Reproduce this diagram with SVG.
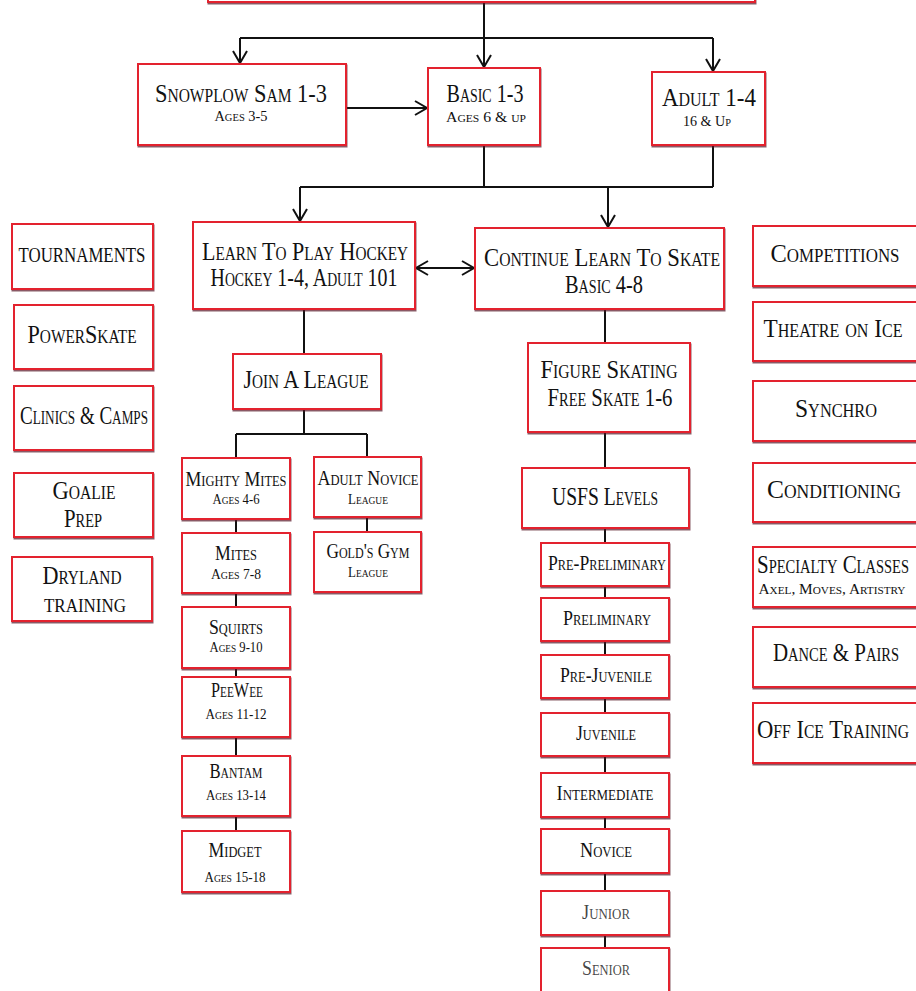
<svg xmlns="http://www.w3.org/2000/svg" width="916" height="991" viewBox="0 0 916 991">
<style>
.box{fill:#fff;stroke:#e3222f;stroke-width:2;filter:url(#sh)}
.t{font-family:"Liberation Serif",serif;font-variant:small-caps;fill:#111;text-anchor:middle}
.l{font-size:26px}
.m{font-size:20px}
.s{font-size:15px}
.c{stroke:#111;stroke-width:2;fill:none}
</style>
<defs>
<filter id="sh" x="-5%" y="-5%" width="110%" height="120%"><feDropShadow dx="0.5" dy="1.5" stdDeviation="0.6" flood-color="#5a1020" flood-opacity="0.7"/></filter>
<marker id="ar" markerUnits="userSpaceOnUse" markerWidth="16" markerHeight="16" refX="12" refY="7" orient="auto-start-reverse" viewBox="-1 -1 15 16">
<path d="M0,0 L12,7 L0,14" fill="none" stroke="#111" stroke-width="2"/>
</marker>
</defs>
<rect width="916" height="991" fill="#fff"/>
<g id="connectors">
<path class="c" d="M484,2 V67" marker-end="url(#ar)"/>
<path class="c" d="M240,38 H713"/>
<path class="c" d="M240,38 V63" marker-end="url(#ar)"/>
<path class="c" d="M713,38 V71" marker-end="url(#ar)"/>
<path class="c" d="M346,108 H427" marker-end="url(#ar)"/>
<path class="c" d="M484,145 V187 M713,145 V187 M300,187 H713"/>
<path class="c" d="M300,187 V221" marker-end="url(#ar)"/>
<path class="c" d="M608,187 V227" marker-end="url(#ar)"/>
<path class="c" d="M416,268 H474" marker-start="url(#ar)" marker-end="url(#ar)"/>
<path class="c" d="M304,309 V354 M304,409 V434 M236,434 H367 M236,434 V458 M367,434 V457"/>
<path class="c" d="M236,519 V533 M236,593 V607 M236,668 V677 M236,737 V756 M236,816 V831 M367,517 V532"/>
<path class="c" d="M605,309 V343 M605,432 V468 M605,528 V543 M605,586 V598 M605,641 V655 M605,698 V713 M605,756 V773 M605,817 V829 M605,873 V891 M605,935 V948"/>
</g>
<g id="top"><rect class="box" x="208" y="-40" width="547" height="42"/></g>
<g id="snowplow"><rect class="box" x="138" y="64" width="208" height="81"/>
<text class="t l" x="241" y="102" textLength="172" lengthAdjust="spacingAndGlyphs">Snowplow Sam 1-3</text>
<text class="t s" x="241" y="121" textLength="53" lengthAdjust="spacingAndGlyphs">Ages 3-5</text></g>
<g id="basic13"><rect class="box" x="428" y="68" width="112" height="77"/>
<text class="t l" x="485" y="102" textLength="77" lengthAdjust="spacingAndGlyphs">Basic 1-3</text>
<text class="t s" x="486" y="122" textLength="80" lengthAdjust="spacingAndGlyphs">Ages 6 &amp; up</text></g>
<g id="adult14"><rect class="box" x="652" y="72" width="113" height="73"/>
<text class="t l" x="709" y="106" textLength="94" lengthAdjust="spacingAndGlyphs">Adult 1-4</text>
<text class="t s" x="707" y="126" textLength="48" lengthAdjust="spacingAndGlyphs">16 &amp; Up</text></g>
<g id="learnhockey"><rect class="box" x="193" y="222" width="222" height="87"/>
<text class="t l" x="305" y="260" textLength="206" lengthAdjust="spacingAndGlyphs">Learn To Play Hockey</text>
<text class="t l" x="304" y="286" textLength="187" lengthAdjust="spacingAndGlyphs">Hockey 1-4, Adult 101</text></g>
<g id="continueskate"><rect class="box" x="475" y="228" width="249" height="81"/>
<text class="t l" x="602" y="266" textLength="236" lengthAdjust="spacingAndGlyphs">Continue Learn To Skate</text>
<text class="t l" x="604" y="293" textLength="78" lengthAdjust="spacingAndGlyphs">Basic 4-8</text></g>
<g id="tournaments"><rect class="box" x="12" y="224" width="141" height="65"/>
<text class="t m" x="82" y="262" textLength="127" lengthAdjust="spacingAndGlyphs">TOURNAMENTS</text></g>
<g id="powerskate"><rect class="box" x="14" y="305" width="139" height="64"/>
<text class="t l" x="82" y="343" textLength="109" lengthAdjust="spacingAndGlyphs">PowerSkate</text></g>
<g id="clinics"><rect class="box" x="14" y="386" width="139" height="64"/>
<text class="t l" x="84" y="424" textLength="128" lengthAdjust="spacingAndGlyphs">Clinics &amp; Camps</text></g>
<g id="goalie"><rect class="box" x="14" y="473" width="139" height="64"/>
<text class="t l" x="84" y="499" textLength="63" lengthAdjust="spacingAndGlyphs">Goalie</text>
<text class="t l" x="83" y="527" textLength="38" lengthAdjust="spacingAndGlyphs">Prep</text></g>
<g id="dryland"><rect class="box" x="12" y="557" width="140" height="64"/>
<text class="t l" x="82" y="584" textLength="79" lengthAdjust="spacingAndGlyphs">Dryland</text>
<text class="t l" x="85" y="612" textLength="82" lengthAdjust="spacingAndGlyphs">training</text></g>
<g id="joinleague"><rect class="box" x="233" y="354" width="148" height="55"/>
<text class="t l" x="306" y="388" textLength="125" lengthAdjust="spacingAndGlyphs">Join A League</text></g>
<g id="mightymites"><rect class="box" x="182" y="458" width="108" height="61"/>
<text class="t m" x="236" y="486" textLength="101" lengthAdjust="spacingAndGlyphs">Mighty Mites</text>
<text class="t s" x="236" y="504" textLength="47" lengthAdjust="spacingAndGlyphs">Ages 4-6</text></g>
<g id="mites"><rect class="box" x="182" y="533" width="108" height="60"/>
<text class="t m" x="236" y="560" textLength="42" lengthAdjust="spacingAndGlyphs">Mites</text>
<text class="t s" x="236" y="579" textLength="50" lengthAdjust="spacingAndGlyphs">Ages 7-8</text></g>
<g id="squirts"><rect class="box" x="182" y="607" width="108" height="61"/>
<text class="t m" x="236" y="634" textLength="54" lengthAdjust="spacingAndGlyphs">Squirts</text>
<text class="t s" x="236" y="652" textLength="53" lengthAdjust="spacingAndGlyphs">Ages 9-10</text></g>
<g id="peewee"><rect class="box" x="182" y="677" width="108" height="60"/>
<text class="t m" x="237" y="697" textLength="52" lengthAdjust="spacingAndGlyphs">PeeWee</text>
<text class="t s" x="236" y="719" textLength="61" lengthAdjust="spacingAndGlyphs">Ages 11-12</text></g>
<g id="bantam"><rect class="box" x="182" y="756" width="108" height="60"/>
<text class="t m" x="236" y="778" textLength="53" lengthAdjust="spacingAndGlyphs">Bantam</text>
<text class="t s" x="236" y="800" textLength="60" lengthAdjust="spacingAndGlyphs">Ages 13-14</text></g>
<g id="midget"><rect class="box" x="182" y="831" width="108" height="61"/>
<text class="t m" x="235" y="857" textLength="53" lengthAdjust="spacingAndGlyphs">Midget</text>
<text class="t s" x="235" y="882" textLength="61" lengthAdjust="spacingAndGlyphs">Ages 15-18</text></g>
<g id="adultnovice"><rect class="box" x="314" y="457" width="107" height="60"/>
<text class="t m" x="368" y="485" textLength="101" lengthAdjust="spacingAndGlyphs">Adult Novice</text>
<text class="t s" x="368" y="504" textLength="40" lengthAdjust="spacingAndGlyphs">League</text></g>
<g id="goldsgym"><rect class="box" x="314" y="532" width="107" height="60"/>
<text class="t m" x="368" y="558" textLength="83" lengthAdjust="spacingAndGlyphs">Gold's Gym</text>
<text class="t s" x="368" y="577" textLength="40" lengthAdjust="spacingAndGlyphs">League</text></g>
<g id="figureskating"><rect class="box" x="528" y="343" width="162" height="89"/>
<text class="t l" x="609" y="378" textLength="137" lengthAdjust="spacingAndGlyphs">Figure Skating</text>
<text class="t l" x="610" y="406" textLength="125" lengthAdjust="spacingAndGlyphs">Free Skate 1-6</text></g>
<g id="usfs"><rect class="box" x="522" y="468" width="167" height="60"/>
<text class="t l" x="605" y="505" textLength="106" lengthAdjust="spacingAndGlyphs">USFS Levels</text></g>
<g id="prepreliminary"><rect class="box" x="541" y="543" width="128" height="43"/>
<text class="t m" x="607" y="570" textLength="118" lengthAdjust="spacingAndGlyphs">Pre-Preliminary</text></g>
<g id="preliminary"><rect class="box" x="541" y="598" width="128" height="43"/>
<text class="t m" x="607" y="625" textLength="88" lengthAdjust="spacingAndGlyphs">Preliminary</text></g>
<g id="prejuvenile"><rect class="box" x="541" y="655" width="128" height="43"/>
<text class="t m" x="606" y="682" textLength="92" lengthAdjust="spacingAndGlyphs">Pre-Juvenile</text></g>
<g id="juvenile"><rect class="box" x="541" y="713" width="128" height="43"/>
<text class="t m" x="606" y="740" textLength="60" lengthAdjust="spacingAndGlyphs">Juvenile</text></g>
<g id="intermediate"><rect class="box" x="541" y="773" width="128" height="44"/>
<text class="t m" x="605" y="800" textLength="97" lengthAdjust="spacingAndGlyphs">Intermediate</text></g>
<g id="novice"><rect class="box" x="541" y="829" width="128" height="44"/>
<text class="t m" x="606" y="857" textLength="52" lengthAdjust="spacingAndGlyphs">Novice</text></g>
<g id="junior"><rect class="box" x="541" y="891" width="128" height="44"/>
<text class="t m" x="606" y="919" textLength="48" lengthAdjust="spacingAndGlyphs" fill-opacity="0.8">Junior</text></g>
<g id="senior"><rect class="box" x="541" y="948" width="128" height="50"/>
<text class="t m" x="606" y="975" textLength="48" lengthAdjust="spacingAndGlyphs" fill-opacity="0.8">Senior</text></g>
<g id="competitions"><rect class="box" x="753" y="226" width="175" height="60"/>
<text class="t l" x="835" y="262" textLength="129" lengthAdjust="spacingAndGlyphs">Competitions</text></g>
<g id="theatre"><rect class="box" x="753" y="302" width="175" height="59"/>
<text class="t l" x="833" y="337" textLength="139" lengthAdjust="spacingAndGlyphs">Theatre on Ice</text></g>
<g id="synchro"><rect class="box" x="753" y="381" width="175" height="60"/>
<text class="t l" x="836" y="417" textLength="82" lengthAdjust="spacingAndGlyphs">Synchro</text></g>
<g id="conditioning"><rect class="box" x="753" y="463" width="175" height="59"/>
<text class="t l" x="834" y="498" textLength="134" lengthAdjust="spacingAndGlyphs">Conditioning</text></g>
<g id="specialty"><rect class="box" x="753" y="547" width="175" height="60"/>
<text class="t l" x="833" y="573" textLength="152" lengthAdjust="spacingAndGlyphs">Specialty Classes</text>
<text class="t s" x="832" y="594" textLength="147" lengthAdjust="spacingAndGlyphs">Axel, Moves, Artistry</text></g>
<g id="dancepairs"><rect class="box" x="753" y="627" width="175" height="60"/>
<text class="t l" x="836" y="661" textLength="126" lengthAdjust="spacingAndGlyphs">Dance &amp; Pairs</text></g>
<g id="officetraining"><rect class="box" x="753" y="703" width="175" height="60"/>
<text class="t l" x="833" y="738" textLength="152" lengthAdjust="spacingAndGlyphs">Off Ice Training</text></g>
</svg>
